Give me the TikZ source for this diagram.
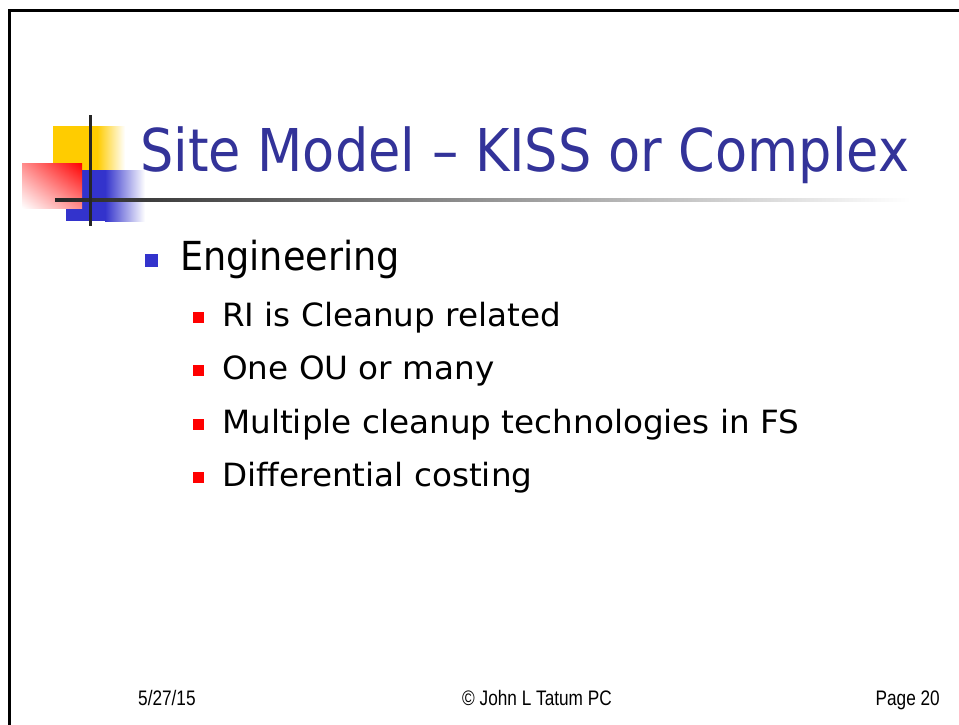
\documentclass[tikz,border=0pt]{standalone}
\usepackage{fontspec}
\setmainfont{DejaVu Sans}[FakeStretch=0.89]
\newfontfamily\firstfont{DejaVu Sans}[FakeStretch=0.915]
\newfontfamily\subfont{DejaVu Sans}[FakeStretch=1.02, Ligatures=NoCommon]
\newfontfamily\footfont{Liberation Sans}[FakeStretch=0.82]
\usepackage{tikz}
\usetikzlibrary{shadings}
\definecolor{titleblue}{HTML}{333399}
\definecolor{logoblue}{HTML}{3333CC}
\definecolor{logoyellow}{HTML}{FFCC00}

\begin{document}
\begin{tikzpicture}
[every node/.style={inner sep=0pt}]
\useasboundingbox (0pt,0pt) rectangle (959pt,-725pt);
\draw [line width=3pt, color=black] (9pt,-725pt) -- (9pt,-11pt) -- (959pt,-11pt);
\fill [logoyellow] (53pt,-126pt) rectangle (97pt,-170pt);
\shade [left color=logoyellow, right color=white] (97pt,-126pt) rectangle (125pt,-170pt);
\fill [logoblue] (66pt,-170pt) rectangle (105pt,-221pt);
\shade [left color=logoblue, right color=white] (105pt,-170pt) rectangle (145pt,-221pt);
\shade [upper right=red, upper left=red!45, lower right=red!45, lower left=white] (22pt,-163pt) rectangle (82pt,-208pt);
\shade [left color=black!85, middle color=black!25, right color=white] (55pt,-198.5pt) rectangle (910pt,-201.5pt);
\draw [line width=3pt, color=black!85] (90pt,-115pt) -- (90pt,-226pt);
\node (title) [anchor=base west, font=\fontsize{59pt}{60pt}\selectfont] at (140pt, -171pt) {\textcolor{titleblue}{Site Model – KISS or Complex}};
\node (b1) [rectangle, minimum size=13pt, fill=logoblue] at (151.5pt, -260.5pt) {};
\node (t1) [anchor=base west, font=\firstfont\fontsize{40pt}{42pt}\selectfont] at (180pt, -270pt) {Engineering};
\node (b2) [rectangle, minimum size=11pt, fill=red] at (198pt, -317.5pt) {};
\node (t2) [anchor=base west, font=\subfont\fontsize{32pt}{34pt}\selectfont] at (222pt, -326pt) {RI is Cleanup related};
\node (b3) [rectangle, minimum size=11pt, fill=red] at (198pt, -370.5pt) {};
\node (t3) [anchor=base west, font=\subfont\fontsize{32pt}{34pt}\selectfont] at (222pt, -379pt) {One OU or many};
\node (b4) [rectangle, minimum size=11pt, fill=red] at (198pt, -424.5pt) {};
\node (t4) [anchor=base west, font=\subfont\fontsize{32pt}{34pt}\selectfont] at (222pt, -433pt) {Multiple cleanup technologies in FS};
\node (b5) [rectangle, minimum size=11pt, fill=red] at (198pt, -477.5pt) {};
\node (t5) [anchor=base west, font=\subfont\fontsize{32pt}{34pt}\selectfont] at (222pt, -486pt) {Differential costing};
\node (date) [anchor=base west, font=\footfont\fontsize{21pt}{22pt}\selectfont] at (138pt, -705pt) {5/27/15};
\node (copy) [anchor=base, font=\footfont\fontsize{21pt}{22pt}\selectfont] at (537pt, -705pt) {© John L Tatum PC};
\node (page) [anchor=base east, font=\footfont\fontsize{21pt}{22pt}\selectfont] at (940pt, -705pt) {Page 20};
\end{tikzpicture}
\end{document}
